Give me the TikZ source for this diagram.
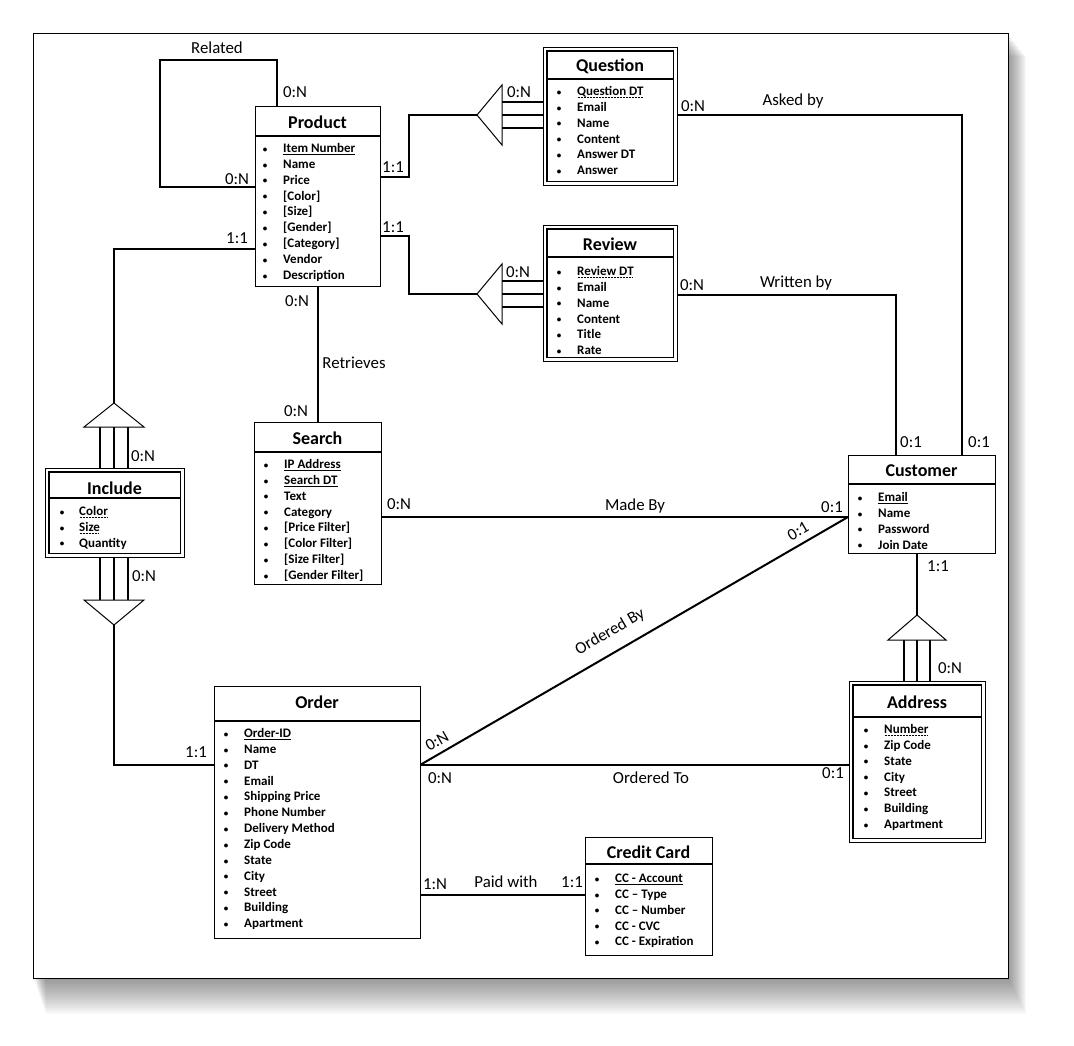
\documentclass[tikz,border=0pt]{standalone}
\usepackage{fontspec}
\setmainfont{Carlito}
\usetikzlibrary{calc}
\pgfdeclarelayer{back}
\pgfdeclarelayer{links}
\pgfsetlayers{back,links,main}
\newsavebox\myulbox
\newcommand{\uln}[1]{\sbox\myulbox{#1}\rlap{\rule[-2.2pt]{\wd\myulbox}{0.75pt}}\usebox\myulbox}
\newcommand{\dotul}[1]{\sbox\myulbox{#1}\rlap{\raisebox{-2.4pt}{\hbox to \wd\myulbox{\leaders\hbox to 1.5pt{\hss\rule{0.75pt}{0.65pt}\hss}\hfill}}}\usebox\myulbox}
\newcommand{\mybul}{\makebox[0pt][c]{\raisebox{0.3pt}{\fontsize{9}{9}\selectfont\textbullet}}}
\newcommand{\attrlist}[5]{% name, bullet x, text gap, first baseline y, list
  \foreach \t [count=\i from 0] in {#5} {
    \node[attr] (#1-\i) at (#2, #4+\i*15.85) {\mybul\hspace{#3pt}\t};
  }}
\begin{document}
\begin{tikzpicture}[x=1pt,y=-1pt,
  ebox/.style={draw, line width=1.2pt, fill=white, inner sep=0pt, anchor=north west},
  wbox/.style={draw, line width=0.9pt, fill=white, inner sep=0pt, anchor=north west},
  inbox/.style={line width=1.1pt},
  ttl/.style={font=\fontsize{18}{21}\selectfont\bfseries, inner sep=0pt},
  attr/.style={font=\fontsize{13}{15}\selectfont\bfseries, inner sep=0pt, anchor=base west},
  lbl/.style={font=\fontsize{16.8}{19}\selectfont, inner sep=0pt},
  conn/.style={line width=2pt},
  tri/.style={line width=1pt, fill=white, line join=miter},
  sepline/.style={line width=1.2pt}]
\useasboundingbox (0,0) rectangle (1074,1045);

% shadow and frame
\begin{pgfonlayer}{back}
\foreach \i in {1,...,18} {
  \fill[black, opacity=0.028] (33+\i*0.7, 33+\i*1.3) rectangle (1008+\i*1.0, 978+\i*2.0);
}
\node[draw, fill=white, line width=1.3pt, minimum width=975pt, minimum height=945pt, inner sep=0pt, anchor=north west] (frame) at (33,33) {};
\end{pgfonlayer}

% ---------- entities ----------
% Product
\node[ebox, minimum width=125pt, minimum height=180pt] (product) at (255,106) {};
\draw[sepline] ([yshift=-30pt]product.north west) -- ([yshift=-30pt]product.north east);
\node[ttl] (product-t) at (317.5,122) {Product};
\attrlist{product}{265}{18}{152.5}{\uln{Item Number}, Name, Price, {[Color]}, {[Size]}, {[Gender]}, {[Category]}, Vendor, Description}

% Question
\node[wbox, minimum width=134pt, minimum height=138pt] (question) at (543,47) {};
\draw[inbox] ([shift={(4pt,-4pt)}]question.north west) rectangle ([shift={(-4pt,4pt)}]question.south east);
\draw[sepline] ([xshift=4pt,yshift=-32pt]question.north west) -- ([xshift=-4pt,yshift=-32pt]question.north east);
\node[ttl] (question-t) at (610,66) {Question};
\attrlist{question}{559}{18}{95.5}{\dotul{Question DT}, Email, Name, Content, Answer DT, Answer}

% Review
\node[wbox, minimum width=134pt, minimum height=136pt] (review) at (543,225) {};
\draw[inbox] ([shift={(4pt,-4pt)}]review.north west) rectangle ([shift={(-4pt,4pt)}]review.south east);
\draw[sepline] ([xshift=4pt,yshift=-32pt]review.north west) -- ([xshift=-4pt,yshift=-32pt]review.north east);
\node[ttl] (review-t) at (610,244) {Review};
\attrlist{review}{559}{18}{275.5}{\dotul{Review DT}, Email, Name, Content, Title, Rate}

% Search
\node[ebox, minimum width=127pt, minimum height=162pt] (search) at (254,422) {};
\draw[sepline] ([yshift=-30pt]search.north west) -- ([yshift=-30pt]search.north east);
\node[ttl] (search-t) at (317.5,438) {Search};
\attrlist{search}{266}{18}{468.5}{\uln{IP Address}, \uln{Search DT}, Text, Category, {[Price Filter]}, {[Color Filter]}, {[Size Filter]}, {[Gender Filter]}}

% Customer
\node[ebox, minimum width=147pt, minimum height=98pt] (customer) at (848,455) {};
\draw[sepline] ([yshift=-29pt]customer.north west) -- ([yshift=-29pt]customer.north east);
\node[ttl] (customer-t) at (921.5,471) {Customer};
\attrlist{customer}{860}{18}{501.5}{\uln{Email}, Name, Password, Join Date}

% Include
\node[wbox, minimum width=139pt, minimum height=89pt] (include) at (45,468) {};
\draw[inbox] ([shift={(4pt,-4pt)}]include.north west) rectangle ([shift={(-4pt,4pt)}]include.south east);
\draw[sepline] ([xshift=4pt,yshift=-30pt]include.north west) -- ([xshift=-4pt,yshift=-30pt]include.north east);
\node[ttl] (include-t) at (114.5,488) {Include};
\attrlist{include}{62}{17}{515.5}{\dotul{Color}, \dotul{Size}, Quantity}

% Address
\node[wbox, minimum width=136pt, minimum height=161pt] (address) at (849,681) {};
\draw[inbox] ([shift={(4pt,-4pt)}]address.north west) rectangle ([shift={(-4pt,4pt)}]address.south east);
\draw[sepline] ([xshift=4pt,yshift=-36pt]address.north west) -- ([xshift=-4pt,yshift=-36pt]address.north east);
\node[ttl] (address-t) at (917,702) {Address};
\attrlist{address}{866}{18}{733.5}{\dotul{Number}, Zip Code, State, City, Street, Building, Apartment}

% Order
\node[ebox, minimum width=206pt, minimum height=252pt] (order) at (214,686) {};
\draw[sepline] ([yshift=-35pt]order.north west) -- ([yshift=-35pt]order.north east);
\node[ttl] (order-t) at (317,702) {Order};
\attrlist{order}{226}{18}{737.5}{\uln{Order-ID}, Name, DT, Email, Shipping Price, Phone Number, Delivery Method, Zip Code, State, City, Street, Building, Apartment}

% Credit Card
\node[ebox, minimum width=127pt, minimum height=118pt] (credit) at (585,837) {};
\draw[sepline] ([yshift=-27pt]credit.north west) -- ([yshift=-27pt]credit.north east);
\node[ttl] (credit-t) at (648.5,852) {Credit Card};
\attrlist{credit}{597}{18}{882.5}{\uln{CC - Account}, CC – Type, CC – Number, CC - CVC, CC - Expiration}

% ---------- coordinates ----------
\coordinate (relA) at (277,60);
\coordinate (relB) at (160,187);
\coordinate (pq) at (409,177);
\coordinate (qtip) at (477,115);
\coordinate (pr) at (409,236);
\coordinate (rtip) at (477,294);
\coordinate (qc) at (962,115);
\coordinate (rc) at (896,295);
\coordinate (mb) at (848,517);
\coordinate (oc) at (420,765);
\coordinate (pay) at (420,895);
\coordinate (pi) at (114,249);
\coordinate (itip) at (114,403);
\coordinate (ibot) at (114,625);
\coordinate (io) at (114,765);
\coordinate (ca) at (917,553);
\coordinate (atip) at (917,615);

% ---------- connectors ----------
\begin{pgfonlayer}{links}
\draw[conn] (product.north -| relA) -- (relA) -| (relB) -- (relB -| product.west);
\draw[conn] (product.east |- pq) -- (pq) |- (qtip);
\draw[conn] (product.east |- pr) -- (pr) |- (rtip);
\foreach \yy in {102,115,128} \draw[conn] (502,\yy) -- (question.center |- 0,\yy);
\foreach \yy in {281,294,307} \draw[conn] (502,\yy) -- (review.center |- 0,\yy);
\draw[conn] (question.east |- qc) -- (qc) -- (qc |- customer.north);
\draw[conn] (review.east |- rc) -- (rc) -- (rc |- customer.north);
\draw[conn] (product.south) -- (product.south |- search.north);
\draw[conn] (search.east |- mb) -- (mb);
\draw[conn] (oc) -- (mb);
\draw[conn] (oc) -- (oc -| address.center);
\draw[conn] (pay) -- (pay -| credit.west);
\draw[conn] (product.west |- pi) -| (itip);
\foreach \xx in {100,114,128} {
  \draw[conn] (\xx,427) -- (\xx,500);
  \draw[conn] (\xx,530) -- (\xx,600);
}
\draw[conn] (ibot) -- (io) -- (io -| order.west);
\draw[conn] (ca) -- (atip);
\foreach \xx in {904,917,930} \draw[conn] (\xx,640) -- (\xx,700);
\end{pgfonlayer}

% triangles
\draw[tri] (qtip) -- (502,85) -- (502,145) -- cycle;
\draw[tri] (rtip) -- (502,264) -- (502,324) -- cycle;
\draw[tri] (itip) -- (84,427) -- (144,427) -- cycle;
\draw[tri] (ibot) -- (84,600) -- (144,600) -- cycle;
\draw[tri] (atip) -- (888,640) -- (946,640) -- cycle;

% ---------- labels ----------
\node[lbl] (l-related) at (217,48) {Related};
\node[lbl] (l-rel1) at (295,92) {0:N};
\node[lbl] (l-rel2) at (237,179) {0:N};
\node[lbl] (l-pq) at (393,167) {1:1};
\node[lbl] (l-pr) at (393,227) {1:1};
\node[lbl] (l-pi) at (237,238) {1:1};
\node[lbl] (l-qn) at (519,92) {0:N};
\node[lbl] (l-qr) at (693,106) {0:N};
\node[lbl] (l-asked) at (793,101) {Asked by};
\node[lbl] (l-rn) at (518,272) {0:N};
\node[lbl] (l-rr) at (692,285) {0:N};
\node[lbl] (l-written) at (796,283) {Written by};
\node[lbl] (l-c1) at (911,442) {0:1};
\node[lbl] (l-c2) at (979,442) {0:1};
\node[lbl] (l-ps) at (297,301) {0:N};
\node[lbl] (l-retr) at (354,363) {Retrieves};
\node[lbl] (l-sp) at (296,411) {0:N};
\node[lbl] (l-sm) at (399,504) {0:N};
\node[lbl] (l-made) at (635,506) {Made By};
\node[lbl] (l-mc) at (832,507) {0:1};
\node[lbl, rotate=30] (l-oc) at (798,531) {0:1};
\node[lbl, rotate=30] (l-orderedby) at (610,632) {Ordered By};
\node[lbl, rotate=30] (l-on) at (437,741) {0:N};
\node[lbl] (l-oa) at (440,778) {0:N};
\node[lbl] (l-orderedto) at (651,778) {Ordered To};
\node[lbl] (l-ao) at (833,773) {0:1};
\node[lbl] (l-ca) at (938,566) {1:1};
\node[lbl] (l-ac) at (950,668) {0:N};
\node[lbl] (l-oc2) at (435,884) {1:N};
\node[lbl] (l-paid) at (506,882) {Paid with};
\node[lbl] (l-cc) at (572,882) {1:1};
\node[lbl] (l-it) at (143,456) {0:N};
\node[lbl] (l-ib) at (144,576) {0:N};
\node[lbl] (l-io) at (196,752) {1:1};
\end{tikzpicture}
\end{document}
